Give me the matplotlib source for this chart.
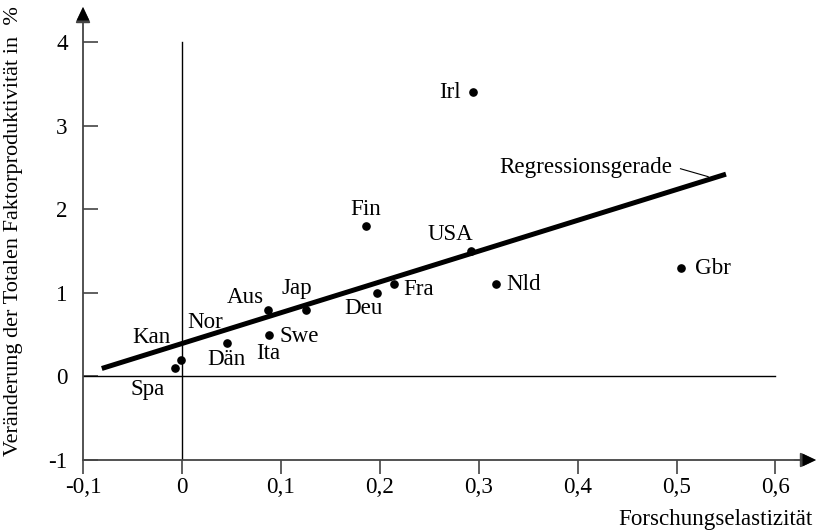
import matplotlib
matplotlib.use("Agg")
import matplotlib.pyplot as plt

# data
countries = ["Irl", "Fin", "USA", "Nld", "Gbr", "Fra", "Deu", "Jap", "Aus",
             "Swe", "Dän", "Kan", "Spa"]
elasticity = [0.294, 0.186, 0.292, 0.318, 0.505, 0.214, 0.197, 0.125, 0.087,
              0.088, 0.046, -0.001, -0.007]
tfp_change = [3.40, 1.80, 1.50, 1.10, 1.30, 1.10, 1.00, 0.80, 0.80,
              0.50, 0.40, 0.20, 0.10]

reg_x = [-0.081, 0.55]
reg_y = [0.095, 2.42]

x_ticks = [-0.1, 0, 0.1, 0.2, 0.3, 0.4, 0.5, 0.6]
x_ticklabels = ["-0,1", "0", "0,1", "0,2", "0,3", "0,4", "0,5", "0,6"]
y_ticks = [-1, 0, 1, 2, 3, 4]
y_ticklabels = ["-1", "0", "1", "2", "3", "4"]

# label offsets in pixels relative to the dot: (dx, dy, ha)
label_offsets = {
    "Irl": (-12, 0, "right"),
    "Fin": (0, 16, "center"),
    "USA": (-20, 17, "center"),
    "Nld": (10, 0, "left"),
    "Gbr": (14, -1, "left"),
    "Fra": (10, -5, "left"),
    "Deu": (-13, -16, "center"),
    "Jap": (-9, 21, "center"),
    "Aus": (-23, 12, "center"),
    "Swe": (11, -2, "left"),
    "Dän": (-1, -17, "center"),
    "Kan": (-29, 22, "center"),
    "Spa": (-27, -21, "center"),
}

plt.rcParams["font.family"] = ["Liberation Serif", "DejaVu Serif"]
FS = 16.6
AXC = "#444444"

fig = plt.figure(figsize=(8.19, 5.31), dpi=100)
W, H = 819, 531
left_px, right_px, top_px, bot_px = 83, 816, 7, 460
ax = fig.add_axes([left_px / W, 1 - bot_px / H, (right_px - left_px) / W,
                   (bot_px - top_px) / H])
ax.set_xlim(-0.1, 0.641)
ax.set_ylim(-1, 4.42)
for s in ax.spines.values():
    s.set_visible(False)

# axes with arrow heads
head = "-|>,head_length=0.95,head_width=0.45"
ax.annotate("", xy=(1.0, 0), xycoords="axes fraction", xytext=(0, 0),
            arrowprops=dict(arrowstyle=head, mutation_scale=10, color=AXC,
                            lw=1.3, shrinkA=0, shrinkB=0))
ax.annotate("", xy=(0, 1.0), xycoords="axes fraction", xytext=(0, 0),
            arrowprops=dict(arrowstyle=head, mutation_scale=10, color=AXC,
                            lw=1.3, shrinkA=0, shrinkB=0))
ax.annotate("", xy=(1.0, 0), xycoords="axes fraction", xytext=(0.97, 0),
            arrowprops=dict(arrowstyle=head, mutation_scale=10, color="black",
                            lw=0.1, shrinkA=0, shrinkB=0))
ax.annotate("", xy=(0, 1.0), xycoords="axes fraction", xytext=(0, 0.97),
            arrowprops=dict(arrowstyle=head, mutation_scale=10, color="black",
                            lw=0.1, shrinkA=0, shrinkB=0))

# zero cross lines
ax.plot([0, 0], [-1, 4], color="black", lw=1.0)
ax.plot([-0.1, 0.6], [0, 0], color="black", lw=1.0)

ax.set_xticks(x_ticks)
ax.set_xticklabels(x_ticklabels)
ax.set_yticks(y_ticks)
ax.set_yticklabels(y_ticklabels)
ax.tick_params(axis="x", direction="out", length=10, width=1.2, color=AXC,
               labelsize=FS, pad=2)
ax.tick_params(axis="y", direction="in", length=11, width=1.2, color=AXC,
               labelsize=FS, pad=11)

# regression line
ax.plot(reg_x, reg_y, color="black", lw=3.6, solid_capstyle="butt")
ax.plot([0.504, 0.532], [2.485, 2.39], color="black", lw=0.8)
ax.text(0.496, 2.50, "Regressionsgerade", fontsize=FS, ha="right", va="center")

# points
ax.plot(elasticity, tfp_change, "o", color="black", markersize=5.2, ls="none",
        clip_on=False)

for name, xv, yv in zip(countries, elasticity, tfp_change):
    dx, dy, ha = label_offsets[name]
    ax.annotate(name, (xv, yv), xytext=(dx * 0.72, dy * 0.72),
                textcoords="offset points", ha=ha, va="center", fontsize=FS)

# labels whose dots are hidden under other marks
ax.annotate("Ita", (0.088, 0.50), xytext=(-1 * 0.72, -19 * 0.72),
            textcoords="offset points", ha="center", va="center", fontsize=FS)
ax.annotate("Nor", (-0.001, 0.20), xytext=(24 * 0.72, 37 * 0.72),
            textcoords="offset points", ha="center", va="center", fontsize=FS)

fig.text(14 / W, 1 - 231 / H, "Veränderung der Totalen Faktorproduktivität in  %",
         rotation=90, ha="center", va="center", fontsize=16.0)
fig.text(813 / W, 1 - 519 / H, "Forschungselastizität", ha="right", va="center",
         fontsize=FS)

fig.savefig("out.png", dpi=100)
